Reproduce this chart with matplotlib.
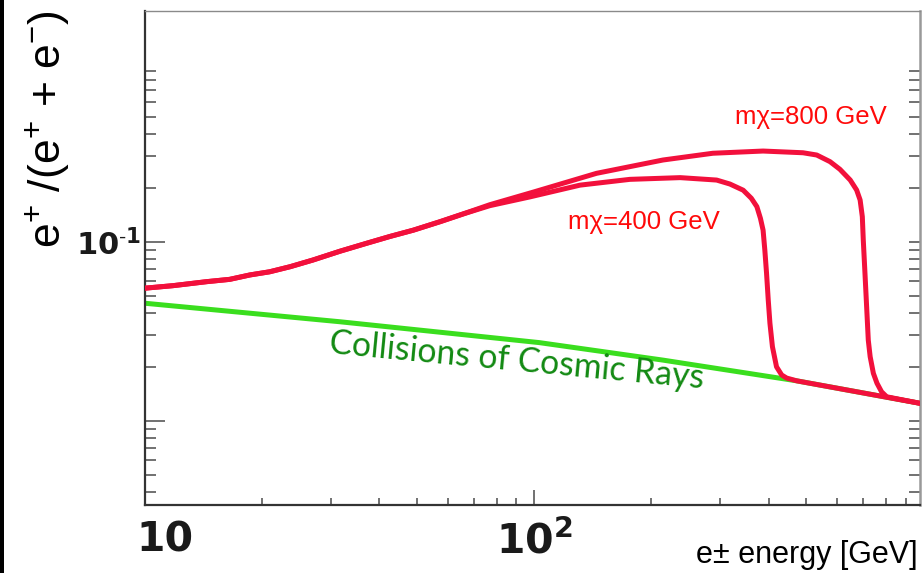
import matplotlib
matplotlib.use('Agg')
import matplotlib.pyplot as plt
from matplotlib.patches import Rectangle
from matplotlib.ticker import FixedLocator, NullFormatter
from matplotlib.transforms import ScaledTranslation

plt.rcParams['mathtext.fontset'] = 'custom'
plt.rcParams['mathtext.rm'] = 'Liberation Sans'
plt.rcParams['mathtext.it'] = 'Liberation Sans:italic'
plt.rcParams['mathtext.bf'] = 'DejaVu Sans:bold'

# ---------------- data ----------------
energy_bg = [10, 31.7, 103, 214, 472, 980]
ratio_bg = [0.0453, 0.0357, 0.0273, 0.0218, 0.0167, 0.0125]

energy_800 = [10, 11.8, 14.4, 16.5, 18.6, 20.9, 23.6, 27.0, 31.7, 37.1, 42.6,
              48.9, 57.3, 65.7, 76.9, 100, 144.5, 214, 287.5, 387, 490, 531.5,
              575, 609.6, 648, 673, 687, 696, 700, 707, 714, 721, 729, 743,
              759, 780, 804, 980]
ratio_800 = [0.055, 0.0568, 0.0598, 0.0616, 0.0652, 0.0679, 0.0725, 0.079,
             0.0885, 0.098, 0.107, 0.116, 0.1294, 0.143, 0.161, 0.190, 0.241,
             0.286, 0.312, 0.321, 0.314, 0.305, 0.280, 0.2538, 0.221, 0.1944,
             0.171, 0.138, 0.102, 0.0666, 0.0433, 0.0282, 0.0228, 0.0184,
             0.0162, 0.0145, 0.0136, 0.0125]

energy_400 = [10, 11.8, 14.4, 16.5, 18.6, 20.9, 23.6, 27.0, 31.7, 37.1, 42.6,
              48.9, 57.3, 65.7, 76.9, 97.5, 131, 176, 237, 294, 318, 344, 361,
              373, 381, 387, 391, 395, 399, 403, 409, 419, 432, 445, 472, 980]
ratio_400 = [0.055, 0.0568, 0.0598, 0.0616, 0.0652, 0.0679, 0.0725, 0.079,
             0.0885, 0.098, 0.107, 0.116, 0.1294, 0.143, 0.159, 0.178, 0.207,
             0.223, 0.228, 0.221, 0.210, 0.194, 0.1748, 0.157, 0.135, 0.116,
             0.0899, 0.0666, 0.0472, 0.035, 0.0259, 0.0200, 0.018, 0.0173,
             0.0167, 0.0125]

label_800 = "mχ=800 GeV"
label_400 = "mχ=400 GeV"
label_bg = "Collisions of Cosmic Rays"
xlabel = "e± energy [GeV]"
ylabel = r"e$^{+}$ /(e$^{+}$ + e$^{-}$)"

x_major = [10, 100]
x_major_labels = ["10", r"$\mathbf{10^{2}}$"]
x_minor = [20, 30, 40, 50, 60, 70, 80, 90, 200, 300, 400, 500, 600, 700, 800, 900]
y_major = [0.01, 0.1]
y_major_labels = ["", r"$\mathbf{10^{\text{-}1}}$"]
y_minor = [0.004, 0.005, 0.006, 0.007, 0.008, 0.009,
           0.02, 0.03, 0.04, 0.05, 0.06, 0.07, 0.08, 0.09,
           0.2, 0.3, 0.4, 0.5, 0.6, 0.7, 0.8, 0.9]

# ---------------- figure ----------------
fig = plt.figure(figsize=(9.22, 5.73), dpi=100)
fig.patch.set_facecolor('white')
ax = fig.add_axes([145 / 922, 68 / 573, 775 / 922, 494 / 573])
ax.set_xscale('log')
ax.set_yscale('log')
ax.set_xlim(10, 979)
ax.set_ylim(0.00338, 1.945)

red = '#f2103c'
ax.plot(energy_bg, ratio_bg, color='#3ade1e', lw=3.6, solid_capstyle='butt', zorder=2)
ax.plot(energy_400, ratio_400, color=red, lw=3.6, solid_joinstyle='round', zorder=3)
ax.plot(energy_800, ratio_800, color=red, lw=3.6, solid_joinstyle='round', zorder=3)

ax.text(0.761, 0.771, label_800, transform=ax.transAxes, color='#ff0a0a',
        fontsize=18.5, family='Liberation Sans', ha='left', va='baseline')
ax.text(0.546, 0.559, label_400, transform=ax.transAxes, color='#ff0a0a',
        fontsize=18.5, family='Liberation Sans', ha='left', va='baseline')
ax.text(0.237, 0.308, label_bg, transform=ax.transAxes, color='#138a13',
        fontsize=24.3, family='Lato', ha='left', va='baseline',
        rotation=-5.4, rotation_mode='anchor')

# ticks
ax.xaxis.set_major_locator(FixedLocator(x_major))
ax.xaxis.set_minor_locator(FixedLocator(x_minor))
ax.xaxis.set_minor_formatter(NullFormatter())
ax.yaxis.set_major_locator(FixedLocator(y_major))
ax.yaxis.set_minor_locator(FixedLocator(y_minor))
ax.yaxis.set_minor_formatter(NullFormatter())
ax.set_xticklabels(x_major_labels)
ax.set_yticklabels(y_major_labels)

tick_col = '#4a4a4a'
ax.tick_params(axis='x', which='major', direction='in', length=10.8, width=1.1,
               color=tick_col, pad=11.5, top=False)
ax.tick_params(axis='x', which='minor', direction='in', length=5, width=1.1,
               color=tick_col, top=False)
ax.tick_params(axis='y', which='major', direction='in', length=14.4, width=1.1,
               color=tick_col, pad=3, right=True)
ax.tick_params(axis='y', which='minor', direction='in', length=7.7, width=1.1,
               color=tick_col, right=True)

for lab in ax.get_xticklabels():
    lab.set_fontsize(29.5)
    lab.set_fontweight('bold')
    lab.set_family('DejaVu Sans')
    lab.set_color('#1a1a1a')
first = ax.xaxis.get_major_ticks()[0].label1
first.set_ha('left')
first.set_transform(first.get_transform()
                    + ScaledTranslation(-9 / 100, 0, fig.dpi_scale_trans))
for lab in ax.get_yticklabels():
    lab.set_fontsize(22)
    lab.set_color('#1a1a1a')
for t in ax.yaxis.get_major_ticks():
    t.tick2line.set_markersize(7.7)

for side, col, lw in [('left', '#333333', 1.6), ('bottom', '#333333', 1.6),
                      ('top', '#8a8a8a', 1.0), ('right', '#999999', 1.8)]:
    ax.spines[side].set_color(col)
    ax.spines[side].set_linewidth(lw)

ax.set_xlabel(xlabel, fontsize=22, family='Liberation Sans', ha='right', va='baseline')
ax.xaxis.set_label_coords(0.997, -0.117)
ax.set_ylabel(ylabel, fontsize=32, family='Liberation Sans', ha='center', va='center')
ax.yaxis.set_label_coords(-0.126, 0.761)

fig.add_artist(Rectangle((0, 0), 4 / 922, 1, transform=fig.transFigure,
                         facecolor='black', edgecolor='none'))

fig.savefig('out.png', dpi=100)
